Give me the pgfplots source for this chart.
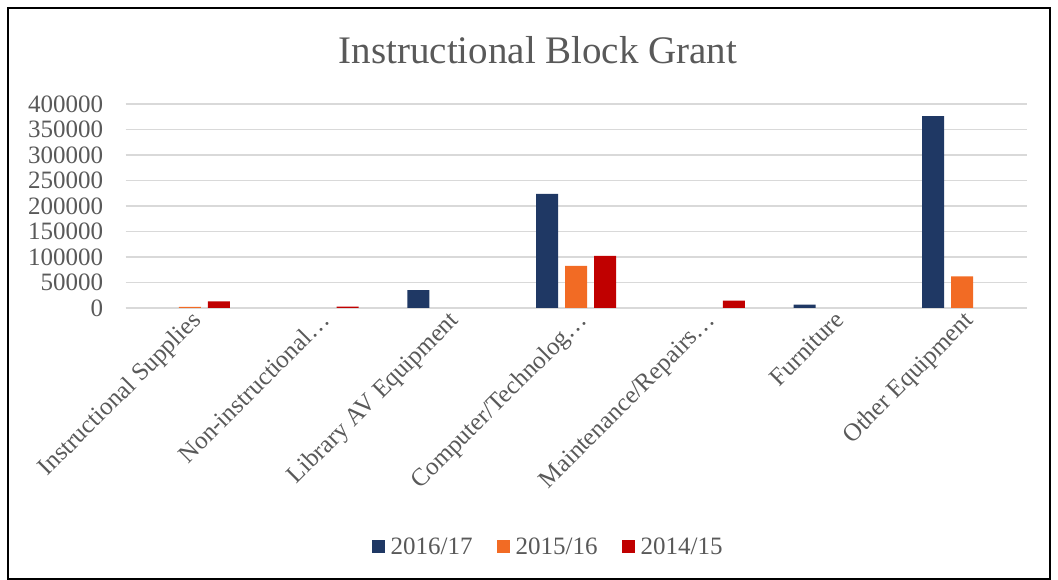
\documentclass[border=0pt]{standalone}
\usepackage{fontspec}
\setmainfont{Liberation Serif}
\usepackage{pgfplots}
\pgfplotsset{compat=1.18}
\definecolor{navy}{HTML}{1F3864}
\definecolor{orng}{HTML}{F26B24}
\definecolor{rd}{HTML}{C00000}
\definecolor{txt}{HTML}{595959}
\definecolor{grd}{HTML}{D9D9D9}
\begin{document}
\begin{tikzpicture}[x=1pt,y=1pt]
\useasboundingbox (0,0) rectangle (1058,580);
\draw[line width=1.5pt] (8,1) rectangle (1050,572);
\node[text=txt,font=\fontsize{39}{42}\selectfont] at (538,530) {Instructional Block Grant};
\begin{axis}[
  at={(125.6pt,272pt)}, anchor=south west,
  scale only axis, width=901pt, height=204pt,
  ybar=7pt, bar width=22pt,
  xmin=-0.5, xmax=6.5, ymin=0, ymax=400000,
  xtick={0,...,6},
  xticklabels={Instructional Supplies,Non-instructional…,Library AV Equipment,Computer/Technolog…,Maintenance/Repairs…,Furniture,Other Equipment},
  x tick label style={rotate=45, anchor=north east, font=\fontsize{25}{27}\selectfont, text=txt, inner sep=1pt},
  ytick={0,50000,...,400000},
  scaled y ticks=false,
  y tick label style={font=\fontsize{25}{27}\selectfont, text=txt, /pgf/number format/assume math mode=true, /pgf/number format/fixed, /pgf/number format/set thousands separator={}, xshift=-19pt},
  ymajorgrids, grid style={grd, line width=1.2pt},
  axis x line*=bottom, axis y line*=left,
  x axis line style={grd, line width=1.2pt, -},
  y axis line style={draw=none},
  major tick length=0pt,
  legend style={at={(0.469,-1.17)}, anchor=center, draw=none, legend columns=-1, font=\fontsize{25}{27}\selectfont, text=txt, /tikz/every even column/.append style={column sep=22pt}},
  legend image code/.code={\fill[#1] (0pt,-6.5pt) rectangle (13pt,6.5pt); \path (17pt,0pt);},
]
\addplot[fill=navy, draw=none] coordinates {(2,35000) (3,224000) (5,6700) (6,376000)};
\addplot[fill=orng, draw=none] coordinates {(0,2000) (3,82500) (6,62000)};
\addplot[fill=rd, draw=none] coordinates {(0,13000) (1,2500) (3,102000) (4,14500)};
\legend{2016/17,2015/16,2014/15}
\end{axis}
\end{tikzpicture}
\end{document}
